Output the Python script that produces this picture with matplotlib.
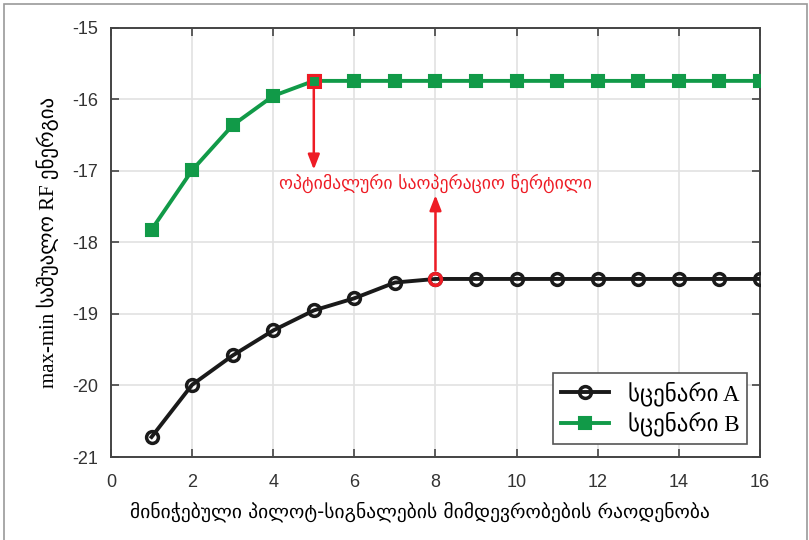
import numpy as np
import matplotlib
matplotlib.use("Agg")
import matplotlib.pyplot as plt
from matplotlib.patches import Rectangle

# რაოდენობა (x) და ორი სცენარის მნიშვნელობები
num_seq = [1, 2, 3, 4, 5, 6, 7, 8, 9, 10, 11, 12, 13, 14, 15, 16]
scen_a = [-20.72, -19.99, -19.58, -19.23, -18.95, -18.78, -18.56, -18.51,
          -18.51, -18.51, -18.51, -18.51, -18.51, -18.51, -18.51, -18.51]
scen_b = [-17.82, -16.99, -16.36, -15.95, -15.74, -15.74, -15.74, -15.74,
          -15.74, -15.74, -15.74, -15.74, -15.74, -15.74, -15.74, -15.74]

opt_a = 8   # ოპტიმალური წერტილი, სცენარი A
opt_b = 5   # ოპტიმალური წერტილი, სცენარი B

label_a = "სცენარი A"
label_b = "სცენარი B"
xlabel = "მინიჭებული პილოტ-სიგნალების მიმდევრობების რაოდენობა"
ylabel = "max-min საშუალო RF ენერგია"
note = "ოპტიმალური საოპერაციო წერტილი"

GEO = ["DejaVu Sans"]
MIX = ["Liberation Serif", "DejaVu Sans"]
GREEN = "#119a48"
RED = "#ee1c25"

plt.rcParams["axes.unicode_minus"] = False

fig = plt.figure(figsize=(8.09, 5.40), dpi=100)
ax = fig.add_axes([0.1372, 0.1537, 0.8022, 0.7945])

# ჩარჩო ფიგურის გარშემო
fig.patches.append(Rectangle((0.005, -0.01), 0.993, 1.003, transform=fig.transFigure,
                             fill=False, edgecolor="#9a9a9a", linewidth=1.2))

ax.plot(num_seq, scen_a, "-o", color="#1a1a1a", lw=2.8, ms=8.5, mew=2.5,
        mfc="none", label=label_a, zorder=3)
ax.plot(num_seq, scen_b, "-s", color=GREEN, lw=2.8, ms=8, mew=1.5,
        mfc=GREEN, label=label_b, zorder=3)

# ოპტიმალური წერტილები წითლად
ia = num_seq.index(opt_a)
ib = num_seq.index(opt_b)
ax.plot(opt_a, scen_a[ia], "o", ms=8.5, mew=2.5, mfc="none", mec=RED, zorder=4)
ax.plot(opt_b, scen_b[ib], "s", ms=8, mew=2.2, mfc=GREEN, mec=RED, zorder=4)

arrow = dict(arrowstyle="-|>,head_length=0.9,head_width=0.35", color=RED, lw=1.8)
ax.annotate("", xy=(opt_b, -17.02), xytext=(opt_b, scen_b[ib] - 0.08), arrowprops=arrow)
ax.annotate("", xy=(opt_a, -17.3), xytext=(opt_a, scen_a[ia] + 0.08), arrowprops=arrow)
ax.text(8, -17.17, note, color=RED, fontsize=12.8, family=GEO,
        ha="center", va="center", zorder=5)

ax.set_xlim(0, 16)
ax.set_ylim(-21, -15)
ax.set_xticks(range(0, 17, 2))
ax.set_yticks(range(-21, -14))
ax.grid(True, color="#e2e2e2", lw=1.2)
ax.set_axisbelow(True)
ax.tick_params(direction="in", top=True, right=True, length=6, width=1.2,
               color="#444444", labelsize=13, labelcolor="#333333")
ax.tick_params(axis="x", pad=12)
ax.tick_params(axis="y", pad=9)
for lab in ax.get_xticklabels() + ax.get_yticklabels():
    lab.set_family("Liberation Sans")
for sp in ax.spines.values():
    sp.set_color("#444444")
    sp.set_linewidth(1.4)

ax.set_xlabel(xlabel, family=GEO, fontsize=14)
ax.xaxis.set_label_coords(0.476, -0.103)
ax.set_ylabel(ylabel, family=MIX, fontsize=15, labelpad=10)

leg = ax.legend(loc="lower right", prop={"family": MIX, "size": 16.5},
                fancybox=False, edgecolor="#555555", framealpha=1,
                handlelength=2.1, borderaxespad=0.55, labelspacing=0.25,
                borderpad=0.35)
leg.get_frame().set_linewidth(1.2)

fig.savefig("out.png", dpi=100)
